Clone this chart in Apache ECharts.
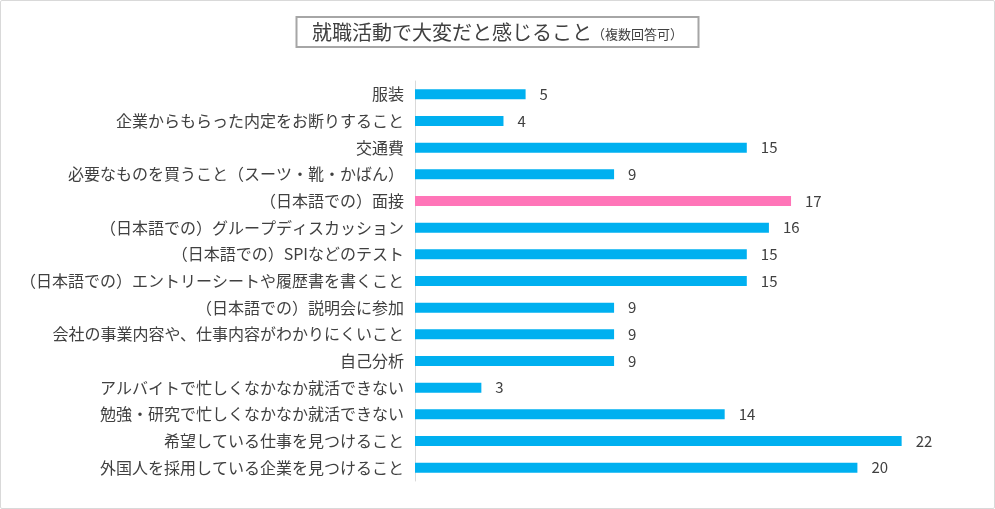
<!DOCTYPE html>
<html>
<head>
<meta charset="utf-8">
<script src="https://cdn.jsdelivr.net/npm/echarts@6/dist/echarts.min.js"></script>
<style>
  html, body { margin: 0; padding: 0; background: #fff; }
  #chart { width: 995px; height: 509px; box-sizing: border-box; border: 1px solid #d9d9d9; border-radius: 2px; }
</style>
</head>
<body>
<div id="chart"></div>
<script>
const categories = [
  '服装',
  '企業からもらった内定をお断りすること',
  '交通費',
  '必要なものを買うこと（スーツ・靴・かばん）',
  '（日本語での）面接',
  '（日本語での）グループディスカッション',
  '（日本語での）SPIなどのテスト',
  '（日本語での）エントリーシートや履歴書を書くこと',
  '（日本語での）説明会に参加',
  '会社の事業内容や、仕事内容がわかりにくいこと',
  '自己分析',
  'アルバイトで忙しくなかなか就活できない',
  '勉強・研究で忙しくなかなか就活できない',
  '希望している仕事を見つけること',
  '外国人を採用している企業を見つけること'
]
const counts = [5, 4, 15, 9, 17, 16, 15, 15, 9, 9, 9, 3, 14, 22, 20]
const highlight = '（日本語での）面接'

const font = '"Noto Sans CJK JP", "Noto Sans", sans-serif'

const chart = echarts.init(document.getElementById('chart'))
chart.setOption({
  animation: false,
  textStyle: { fontFamily: font },
  title: {
    text: '{main|就職活動で大変だと感じること}{sub|（複数回答可）}',
    left: 'center',
    top: 16,
    padding: [5, 16],
    borderColor: '#a6a6a6',
    borderWidth: 2,
    textStyle: {
      fontWeight: 'normal',
      rich: {
        main: { fontSize: 20, color: '#404040', fontFamily: font, fontWeight: 'normal' },
        sub: { fontSize: 13, color: '#404040', fontFamily: font, fontWeight: 'normal', padding: [4, 0, 0, 0] }
      }
    }
  },
  grid: {
    left: 414,
    top: 80,
    width: 553,
    height: 400,
    containLabel: false
  },
  xAxis: {
    type: 'value',
    min: 0,
    max: 25,
    show: false
  },
  yAxis: {
    type: 'category',
    data: categories,
    inverse: true,
    axisLine: { lineStyle: { color: '#d9d9d9', width: 1 } },
    axisTick: { show: false },
    axisLabel: { fontSize: 16, color: '#404040', margin: 11 }
  },
  series: [{
    type: 'bar',
    barWidth: 10,
    data: counts.map((v, i) => ({
      value: v,
      itemStyle: { color: categories[i] === highlight ? '#ff75b8' : '#00b0f0' }
    })),
    label: {
      show: true,
      position: 'right',
      distance: 14,
      fontSize: 15,
      color: '#404040'
    }
  }]
})
</script>
</body>
</html>
